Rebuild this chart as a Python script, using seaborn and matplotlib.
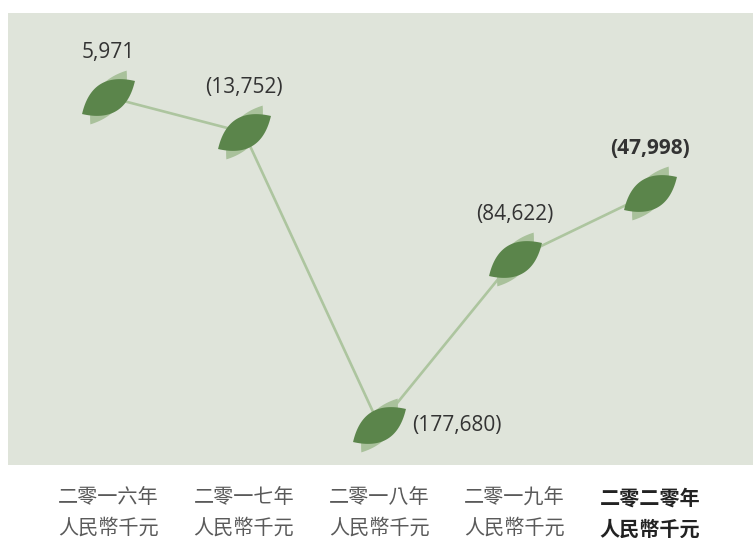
import numpy as np
import pandas as pd
import seaborn as sns
import matplotlib
matplotlib.use('Agg')
import matplotlib.pyplot as plt
from matplotlib.path import Path

# chart data
years = ['二零一六年', '二零一七年', '二零一八年', '二零一九年', '二零二零年']
unit = '人民幣千元'
values = [5971, -13752, -177680, -84622, -47998]
value_labels = ['5,971', '(13,752)', '(177,680)', '(84,622)', '(47,998)']

BG = '#dfe4da'
LINE = '#adc59f'
LEAF_DARK = '#5b854b'
LEAF_LIGHT = '#a9c19b'


def leaf_path(angle_deg, upper, lower, n=40):
    '''
    Lens shaped marker with tips at (-1, 0) and (1, 0), rotated by angle
    '''
    t = np.linspace(-1, 1, n)
    top = np.column_stack([t, upper * (1 - t ** 2)])
    bot = np.column_stack([t[::-1], -lower * (1 - t[::-1] ** 2)])
    pts = np.vstack([top, bot, top[:1]])
    a = np.deg2rad(angle_deg)
    rot = np.array([[np.cos(a), -np.sin(a)], [np.sin(a), np.cos(a)]])
    pts = pts @ rot.T
    codes = [Path.MOVETO] + [Path.LINETO] * (len(pts) - 2) + [Path.CLOSEPOLY]
    return Path(pts, codes)


df = pd.DataFrame({'x': np.arange(len(values)), 'value': values})

sns.set_theme(style='white')
plt.rcParams['font.family'] = ['Open Sans', 'DejaVu Sans']

fig = plt.figure(figsize=(7.53, 5.38), dpi=100)
ax = fig.add_axes([8 / 753, 73 / 538, 745 / 753, 452 / 538])
ax.set_facecolor(BG)

sns.lineplot(data=df, x='x', y='value', color=LINE, linewidth=1.9, ax=ax, zorder=1)
ax.scatter(df['x'], df['value'], marker=leaf_path(56, 0.4, 0.4), s=1500,
           color=LEAF_LIGHT, linewidths=0, zorder=2)
ax.scatter(df['x'], df['value'], marker=leaf_path(32, 0.5, 0.5), s=1450,
           color=LEAF_DARK, linewidths=0, zorder=3)

# value labels
for i, (v, lab) in enumerate(zip(values, value_labels)):
    bold = i == len(values) - 1
    if v == min(values):
        ax.annotate(lab, (i, v), xytext=(24, 0), textcoords='offset points',
                    ha='left', va='center', fontsize=15, color='#333333')
    else:
        ax.annotate(lab, (i, v), xytext=(0, 32), textcoords='offset points',
                    ha='center', va='center', fontsize=15, color='#333333',
                    fontweight='bold' if bold else 'normal')

ax.set_xlim(-0.74, 4.76)
ax.set_ylim(-200000, 53000)
ax.set_yticks([])
ax.set_xticks(df['x'])
ax.set_xticklabels([f'{y}\n{unit}' for y in years], fontsize=14.5, color='#5a5a5a',
                   family=['Noto Sans CJK TC', 'DejaVu Sans'],
                   linespacing=1.6)
last = ax.get_xticklabels()[-1]
last.set_fontweight('bold')
last.set_color('#222222')
ax.tick_params(axis='x', length=0, pad=16)
ax.set_xlabel('')
ax.set_ylabel('')
for s in ax.spines.values():
    s.set_visible(False)

fig.savefig('out.png', dpi=100, facecolor='white')
